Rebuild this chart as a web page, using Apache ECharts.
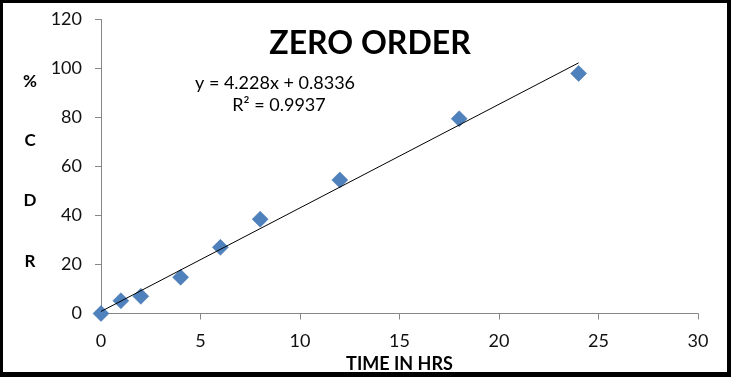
<!DOCTYPE html>
<html><head><meta charset="utf-8">
<script src="https://cdn.jsdelivr.net/npm/echarts@6/dist/echarts.min.js"></script>
<style>
html,body{margin:0;padding:0;background:#fff;}
#wrap{position:absolute;left:0;top:0;width:731px;height:377px;box-sizing:border-box;border-style:solid;border-color:#000;border-width:3px 4px 5px 3px;}
#c{position:absolute;left:0;top:0;width:731px;height:377px;}
</style></head>
<body>
<div id="c"></div>
<div id="wrap"></div>
<script>
const timeHrs = [0, 1, 2, 4, 6, 8, 12, 18, 24];
const cdrPercent = [0, 5.2, 7, 14.8, 27, 38.5, 54.5, 79.5, 98];
const slope = 4.228, intercept = 0.8336;
const trendX = [0, 24];
const xTicks = [0, 5, 10, 15, 20, 25, 30];
const yTicks = [0, 20, 40, 60, 80, 100, 120];
const yTitleLetters = ['%', 'C', 'D', 'R'];

const FONT = 'Lato, "Open Sans", sans-serif';
const chart = echarts.init(document.getElementById('c'), null, {renderer: 'canvas'});
const letterY = [82, 141, 201, 262];
chart.setOption({
  animation: false,
  backgroundColor: '#fff',
  grid: {left: 101, right: 33, top: 19.5, bottom: 63.5, containLabel: false, outerBoundsMode: 'none'},
  title: {text: 'ZERO ORDER', left: 365, top: 23, textAlign: 'center',
    textStyle: {fontFamily: FONT, fontWeight: 'bold', fontSize: 32, color: '#000'}},
  xAxis: {type: 'value', min: 0, max: 30, interval: 5,
    axisLine: {show: true, onZero: false, lineStyle: {color: '#868686'}},
    axisTick: {show: true, length: 6, lineStyle: {color: '#868686'}},
    splitLine: {show: false},
    axisLabel: {fontFamily: FONT, fontSize: 18, color: '#111', margin: 19},
    name: 'TIME IN HRS', nameLocation: 'middle', nameGap: 41,
    nameTextStyle: {fontFamily: FONT, fontWeight: 'bold', fontSize: 18, color: '#000', padding: [0,0,0,0]}
  },
  yAxis: {type: 'value', min: 0, max: 120, interval: 20,
    axisLine: {show: true, lineStyle: {color: '#868686'}},
    axisTick: {show: true, length: 6, lineStyle: {color: '#868686'}},
    splitLine: {show: false},
    axisLabel: {fontFamily: FONT, fontSize: 18, color: '#111', margin: 19}
  },
  graphic: yTitleLetters.map((t, i) => ({
    type: 'text', x: 30, y: letterY[i],
    style: {text: t, font: 'bold 17px ' + FONT, fill: '#000', textAlign: 'center', textVerticalAlign: 'middle'}
  })).concat([
    {type: 'text', x: 275, y: 83, style: {text: 'y = 4.228x + 0.8336', font: '18px ' + FONT, fill: '#000', textAlign: 'center', textVerticalAlign: 'middle'}},
    {type: 'text', x: 279, y: 105, style: {text: 'R² = 0.9937', font: '18px ' + FONT, fill: '#000', textAlign: 'center', textVerticalAlign: 'middle'}}
  ]),
  series: [
    {type: 'line', data: trendX.map(x => [x, slope * x + intercept]), symbol: 'none',
      lineStyle: {color: '#000', width: 1}, z: 3},
    {type: 'scatter', data: timeHrs.map((t, i) => [t, cdrPercent[i]]), symbol: 'diamond', symbolSize: 16,
      itemStyle: {color: '#4F81BD', borderColor: '#3F6FA8', borderWidth: 0.5, opacity: 1}, z: 2}
  ]
});
</script>
</body></html>
